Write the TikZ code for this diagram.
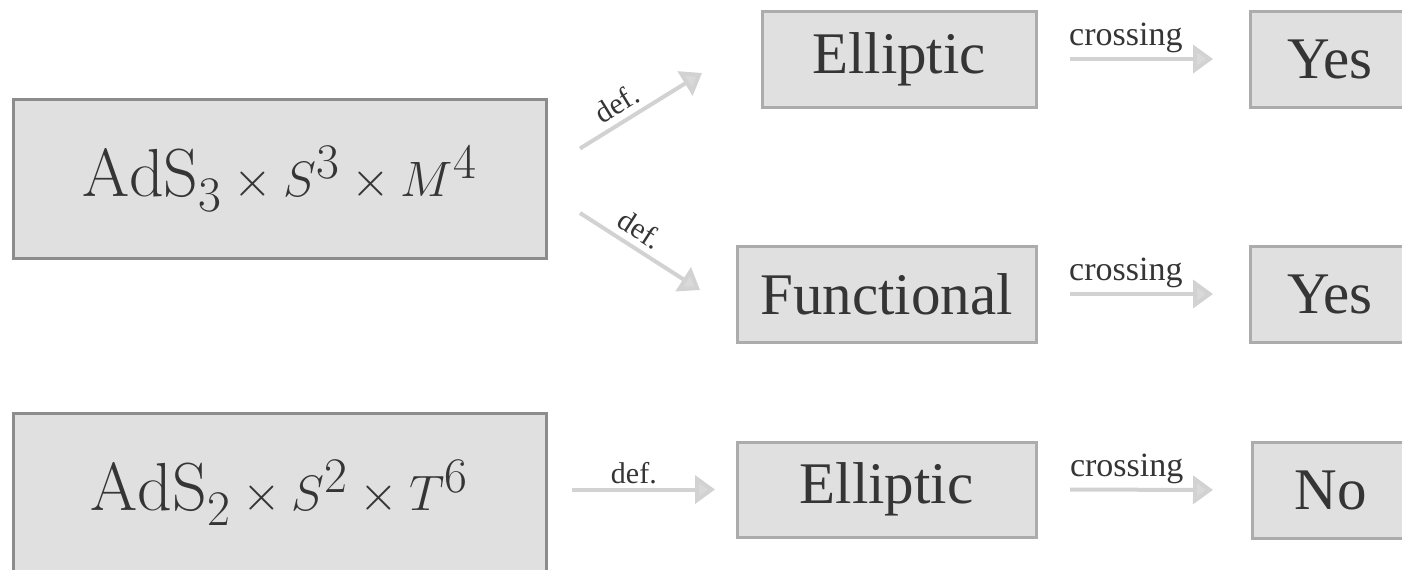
\documentclass[tikz,border=0pt]{standalone}
\usepackage{fontspec}
\newfontfamily\labfont{Liberation Serif}
\usetikzlibrary{arrows.meta,calc}
\definecolor{boxfill}{HTML}{E0E0E0}
\definecolor{bigedge}{HTML}{8C8C8C}
\definecolor{smalledge}{HTML}{ACACAC}
\definecolor{arrowgray}{HTML}{D2D2D2}
\definecolor{txt}{HTML}{353535}
\tikzset{
  bigbox/.style={draw=bigedge, fill=boxfill, line width=1.5pt, inner sep=0pt, outer sep=0pt,
    minimum width=266.5pt, minimum height=79.5pt, text=txt, font=\fontsize{34}{36}\selectfont},
  smallbox/.style={draw=smalledge, fill=boxfill, line width=1.5pt, inner sep=0pt, outer sep=0pt,
    minimum height=48pt, text=txt, font=\labfont\fontsize{29.5}{30}\selectfont},
  flow/.style={draw=arrowgray, line width=2pt, -{Triangle[length=10pt,width=14pt,fill=arrowgray!85!white]}},
  lab/.style={text=txt, font=\labfont\fontsize{15}{16}\selectfont, inner sep=2pt},
  crosslab/.style={lab, font=\labfont\fontsize{17}{18}\selectfont}
}
\begin{document}
\begin{tikzpicture}[x=0.5pt,y=-0.5pt]
\useasboundingbox (0,0) rectangle (1402,569);
% left boxes
\node[bigbox] (A) at (279.5,178.5) {$\mathrm{AdS}_3\times S^3\times M^4$};
\node[bigbox] (B) at (279.5,492.5) {$\mathrm{AdS}_2\times S^2\times T^6$};
% middle boxes
\node[smallbox, minimum width=137pt] (E1) at (899,59) {Elliptic};
\node[smallbox, minimum width=149.5pt] (F) at (886.5,294) {Functional};
\node[smallbox, minimum width=149.5pt, minimum height=47.5pt] (E2) at (886.5,489.5) {Elliptic};
% right boxes
\node[smallbox, minimum width=80pt] (Y1) at (1330,59) {Yes};
\node[smallbox, minimum width=80pt] (Y2) at (1330,294) {Yes};
\node[smallbox, minimum width=79pt] (N) at (1331,490) {No};
% arrow end points
\coordinate (a1s) at ($(A.east)+(34,-30)$);
\coordinate (a1e) at ($(E1.west)+(-60,14)$);
\coordinate (a2s) at ($(A.east)+(34,34.5)$);
\coordinate (a2e) at ($(F.west)+(-37,-4)$);
% def arrows
\draw[flow] (a1s) -- node[lab, sloped, above=1pt, pos=0.38] {def.} (a1e);
\draw[flow] (a2s) -- node[lab, sloped, above=1pt, pos=0.42] {def.} (a2e);
\draw[flow, shorten <=13pt, shorten >=11pt] (B.east |- E2.west) -- node[lab, above, pos=0.46] {def.} (E2.west);
% crossing arrows
\draw[flow, shorten <=17pt, shorten >=18.5pt] (E1.east) -- node[crosslab, above, pos=0.42] {crossing} (Y1.west);
\draw[flow, shorten <=17pt, shorten >=18.5pt] (F.east) -- node[crosslab, above, pos=0.42] {crossing} (Y2.west);
\draw[flow, shorten <=17pt, shorten >=19.5pt] (E2.east) -- node[crosslab, above, pos=0.42] {crossing} (N.west);
\end{tikzpicture}
\end{document}
